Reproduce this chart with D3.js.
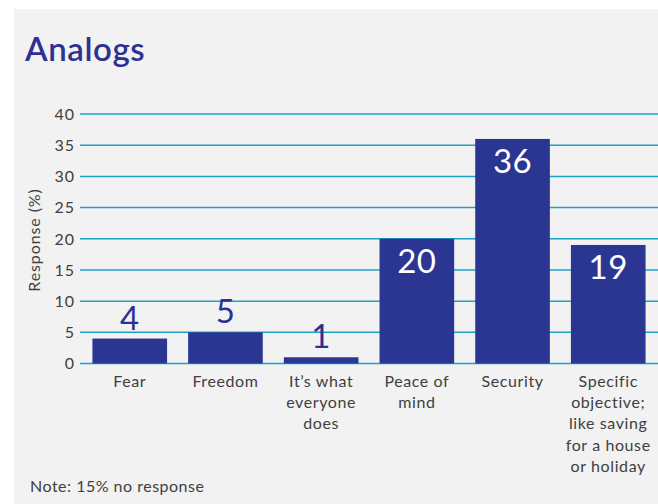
<!DOCTYPE html>
<html>
<head>
<meta charset="utf-8">
<script src="https://cdn.jsdelivr.net/npm/d3@7"></script>
<style>
  html, body { margin: 0; padding: 0; background: #ffffff; }
  svg { display: block; }
  text { font-family: Lato, "Noto Sans", sans-serif; }
</style>
</head>
<body>
<svg id="chart" width="658" height="504"></svg>
<script>
// Survey responses: why people save (Analogs)
const categories = [
  ["Fear"],
  ["Freedom"],
  ["It\u2019s what", "everyone", "does"],
  ["Peace of", "mind"],
  ["Security"],
  ["Specific", "objective;", "like saving", "for a house", "or holiday"]
];
const values = [4, 5, 1, 20, 36, 19];
const yTicks = [0, 5, 10, 15, 20, 25, 30, 35, 40];

const W = 658, H = 504;
const textGrey = "#404040";
const svg = d3.select("#chart");

// panel background
svg.append("rect")
  .attr("x", 14).attr("y", 9)
  .attr("width", W - 14).attr("height", H - 9)
  .attr("fill", "#f2f2f2");

// title
svg.append("text")
  .attr("x", 25).attr("y", 61)
  .attr("fill", "#2e3192")
  .attr("font-size", 33)
  .attr("font-weight", 600)
  .attr("letter-spacing", 0.6)
  .text("Analogs");

const plotLeft = 80, plotRight = W;
const y = d3.scaleLinear().domain([0, 40]).range([363.5, 114]);
const x = d3.scaleBand()
  .domain(d3.range(categories.length))
  .range([plotLeft, plotRight])
  .paddingInner(0.22)
  .paddingOuter(0.13);

// gridlines
svg.append("g")
  .selectAll("line")
  .data(yTicks)
  .join("line")
  .attr("x1", plotLeft).attr("x2", plotRight)
  .attr("y1", d => y(d)).attr("y2", d => y(d))
  .attr("stroke", "#1ea2c8")
  .attr("stroke-width", 1.5);

// y axis tick labels
const yAxis = d3.axisLeft(y).tickValues(yTicks).tickSize(0).tickPadding(0);
const gy = svg.append("g")
  .attr("transform", `translate(${plotLeft - 5},0)`)
  .call(yAxis);
gy.select(".domain").remove();
gy.selectAll("text")
  .attr("font-family", "Lato, 'Noto Sans', sans-serif")
  .attr("font-size", 16)
  .attr("letter-spacing", 1)
  .attr("fill", textGrey)
  .attr("dy", "0.33em");

// y axis title
svg.append("text")
  .attr("transform", "translate(40,240) rotate(-90)")
  .attr("text-anchor", "middle")
  .attr("font-size", 16)
  .attr("letter-spacing", 0.9)
  .attr("fill", textGrey)
  .text("Response (%)");

// bars
svg.append("g")
  .selectAll("rect")
  .data(values)
  .join("rect")
  .attr("x", (d, i) => x(i))
  .attr("y", d => y(d))
  .attr("width", x.bandwidth())
  .attr("height", d => y(0) - y(d))
  .attr("fill", "#2b3692");

// value labels: inside tall bars, above short ones
svg.append("g")
  .selectAll("text")
  .data(values)
  .join("text")
  .attr("x", (d, i) => x(i) + x.bandwidth() / 2)
  .attr("y", d => d >= 10 ? y(d) + 34 : y(d) - 9)
  .attr("text-anchor", "middle")
  .attr("font-size", 33)
  .attr("letter-spacing", 0.5)
  .attr("fill", d => d >= 10 ? "#ffffff" : "#2e3192")
  .text(d => d);

// category labels (multi-line)
const xl = svg.append("g")
  .selectAll("text")
  .data(categories)
  .join("text")
  .attr("x", (d, i) => x(i) + x.bandwidth() / 2)
  .attr("y", 387)
  .attr("text-anchor", "middle")
  .attr("font-size", 16)
  .attr("letter-spacing", 0.6)
  .attr("fill", textGrey);
xl.selectAll("tspan")
  .data(d => d)
  .join("tspan")
  .attr("x", function () { return d3.select(this.parentNode).attr("x"); })
  .attr("dy", (d, j) => j === 0 ? 0 : 21.2)
  .text(d => d);

// footnote
svg.append("text")
  .attr("x", 30).attr("y", 492)
  .attr("font-size", 16)
  .attr("letter-spacing", 0.5)
  .attr("fill", textGrey)
  .text("Note: 15% no response");
</script>
</body>
</html>
